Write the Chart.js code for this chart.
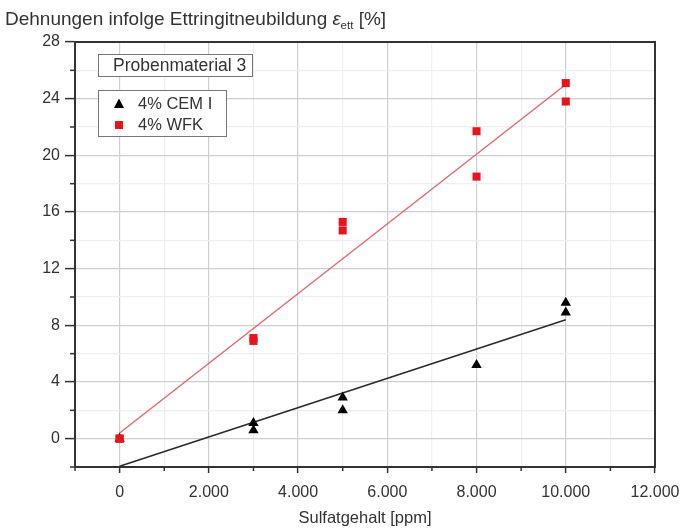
<!DOCTYPE html>
<html>
<head>
<meta charset="utf-8">
<script src="https://cdn.jsdelivr.net/npm/chart.js@4.4.1/dist/chart.umd.min.js"></script>
<style>
  html, body { margin: 0; padding: 0; background: #fff; }
  #wrap { width: 681px; height: 528px; position: relative; }
</style>
</head>
<body>
<div id="wrap"><canvas id="c" width="681" height="528"></canvas></div>
<script>
// ---- data ----
const cemX = [0, 3000, 3000, 5000, 5000, 8000, 10000, 10000];
const cemY = [0, 1.1, 0.6, 2.9, 2.0, 5.2, 9.6, 8.9];
const wfkX = [0, 0, 3000, 3000, 5000, 5000, 8000, 8000, 10000, 10000];
const wfkY = [0, 0, 7.1, 6.9, 15.3, 14.7, 21.7, 18.5, 25.1, 23.8];
const cemFitX = [0, 10000];
const cemFitY = [-1.95, 8.4];
const wfkFitX = [0, 10000];
const wfkFitY = [0.4, 25.0];
const seriesLabels = ['4% CEM I', '4% WFK'];
const boxTitle = 'Probenmaterial 3';
const yTitle = 'Dehnungen infolge Ettringitneubildung';
const xTitle = 'Sulfatgehalt [ppm]';
const xMajorTicks = [0, 2000, 4000, 6000, 8000, 10000, 12000];
const yMajorTicks = [0, 4, 8, 12, 16, 20, 24, 28];

const pts = (xs, ys) => xs.map((x, i) => ({x, y: ys[i]}));
const FONT = '"Liberation Sans", Arial, sans-serif';
const TXT = '#333';
const RED = '#e8141c';

const fmtDE = v => v.toLocaleString('de-DE');

const decorPlugin = {
  id: 'decor',
  afterDraw(chart) {
    const {ctx, chartArea: a, scales: {x, y}} = chart;
    ctx.save();
    // minor ticks
    ctx.strokeStyle = '#333';
    ctx.lineWidth = 1.5;
    x.ticks.forEach(t => {
      if (!xMajorTicks.includes(t.value)) {
        const px = x.getPixelForValue(t.value);
        ctx.beginPath(); ctx.moveTo(px, a.bottom); ctx.lineTo(px, a.bottom + 4); ctx.stroke();
      }
    });
    y.ticks.forEach(t => {
      if (!yMajorTicks.includes(t.value)) {
        const py = y.getPixelForValue(t.value);
        ctx.beginPath(); ctx.moveTo(a.left - 5, py); ctx.lineTo(a.left, py); ctx.stroke();
      }
    });
    // frame
    ctx.strokeStyle = '#333';
    ctx.lineWidth = 2;
    ctx.strokeRect(a.left, a.top, a.right - a.left, a.bottom - a.top);

    // y title
    ctx.fillStyle = TXT;
    ctx.textBaseline = 'alphabetic';
    ctx.font = '19px ' + FONT;
    let tx = 5, ty = 25;
    ctx.fillText(yTitle + ' ', tx, ty);
    tx += ctx.measureText(yTitle + ' ').width;
    ctx.font = 'italic 18.5px ' + FONT;
    ctx.fillText('\u03B5', tx, ty);
    tx += ctx.measureText('\u03B5').width;
    ctx.font = '11.5px ' + FONT;
    ctx.fillText('ett', tx, ty + 4);
    tx += ctx.measureText('ett').width;
    ctx.font = '19px ' + FONT;
    ctx.fillText(' [%]', tx, ty);

    // sample box
    ctx.lineWidth = 1;
    ctx.strokeStyle = '#777';
    ctx.fillStyle = '#fff';
    ctx.fillRect(98.5, 54.5, 154, 22);
    ctx.strokeRect(98.5, 54.5, 154, 22);
    ctx.fillStyle = TXT;
    ctx.font = '17.5px ' + FONT;
    ctx.textBaseline = 'middle';
    ctx.fillText(boxTitle, 113, 66);

    // legend box
    ctx.fillStyle = '#fff';
    ctx.fillRect(98.5, 90.5, 128, 46);
    ctx.strokeRect(98.5, 90.5, 128, 46);
    ctx.font = '16.5px ' + FONT;
    const ds = chart.data.datasets;
    const rows = [[ds[0], 104], [ds[1], 125]];
    rows.forEach(([d, yy]) => {
      const c = d.pointBackgroundColor;
      ctx.fillStyle = c;
      if (d.pointStyle === 'triangle') {
        ctx.beginPath();
        ctx.moveTo(119, yy - 5.5); ctx.lineTo(124, yy + 4); ctx.lineTo(114, yy + 4); ctx.closePath(); ctx.fill();
      } else {
        ctx.fillRect(115, yy - 4, 8, 8);
      }
      ctx.fillStyle = TXT;
      ctx.fillText(d.label, 138, yy);
    });
    ctx.restore();
  }
};

new Chart(document.getElementById('c'), {
  type: 'scatter',
  data: {
    datasets: [
      { label: seriesLabels[0], data: pts(cemX, cemY), pointStyle: 'triangle', pointRadius: 6,
        pointBackgroundColor: '#000', pointBorderColor: '#000', pointBorderWidth: 0, order: 2 },
      { label: seriesLabels[1], data: pts(wfkX, wfkY), pointStyle: 'rect', pointRadius: 5.7,
        pointBackgroundColor: RED, pointBorderColor: RED, pointBorderWidth: 0, order: 1 },
      { label: 'fitCEM', data: pts(cemFitX, cemFitY), showLine: true, pointRadius: 0,
        borderColor: '#2a2a2a', borderWidth: 1.5, order: 3 },
      { label: 'fitWFK', data: pts(wfkFitX, wfkFitY), showLine: true, pointRadius: 0,
        borderColor: '#e46a6e', borderWidth: 1.5, order: 3 }
    ]
  },
  options: {
    responsive: false,
    animation: false,
    layout: { padding: { top: 42, right: 26, left: 0, bottom: 0 } },
    plugins: { legend: { display: false }, tooltip: { enabled: false } },
    scales: {
      x: {
        type: 'linear', min: -1000, max: 12000,
        afterFit(s) { s.height = 61; s.paddingRight = 0; s.paddingLeft = 0; },
        afterBuildTicks(s) { s.ticks = []; for (let v = -1000; v <= 12000; v += 1000) s.ticks.push({value: v}); },
        ticks: {
          color: TXT, font: { family: FONT, size: 16 }, padding: 10, maxRotation: 0, autoSkip: false,
          callback: v => xMajorTicks.includes(v) ? fmtDE(v) : ''
        },
        grid: {
          color: c => xMajorTicks.includes(c.tick && c.tick.value) ? '#cfcfcf' : '#efefef',
          lineWidth: 1.2,
          tickColor: c => xMajorTicks.includes(c.tick && c.tick.value) ? '#333' : 'rgba(0,0,0,0)',
          tickLength: 6, tickWidth: 1.5
        },
        border: { color: '#333', width: 2 },
        title: { display: true, text: xTitle, color: TXT, font: { family: FONT, size: 16.5 }, padding: { top: 0, bottom: 0 } }
      },
      y: {
        type: 'linear', min: -2, max: 28,
        afterFit(s) { s.width = 75; s.paddingTop = 0; s.paddingBottom = 0; },
        afterBuildTicks(s) { s.ticks = []; for (let v = -2; v <= 28; v += 2) s.ticks.push({value: v}); },
        ticks: {
          color: TXT, font: { family: FONT, size: 16 }, padding: 5, autoSkip: false,
          callback: v => yMajorTicks.includes(v) ? String(v) : ''
        },
        grid: {
          color: c => yMajorTicks.includes(c.tick && c.tick.value) ? '#cfcfcf' : '#efefef',
          lineWidth: 1.2,
          tickColor: c => yMajorTicks.includes(c.tick && c.tick.value) ? '#333' : 'rgba(0,0,0,0)',
          tickLength: 10, tickWidth: 1.5
        },
        border: { color: '#333', width: 2 }
      }
    }
  },
  plugins: [decorPlugin]
});
</script>
</body>
</html>
